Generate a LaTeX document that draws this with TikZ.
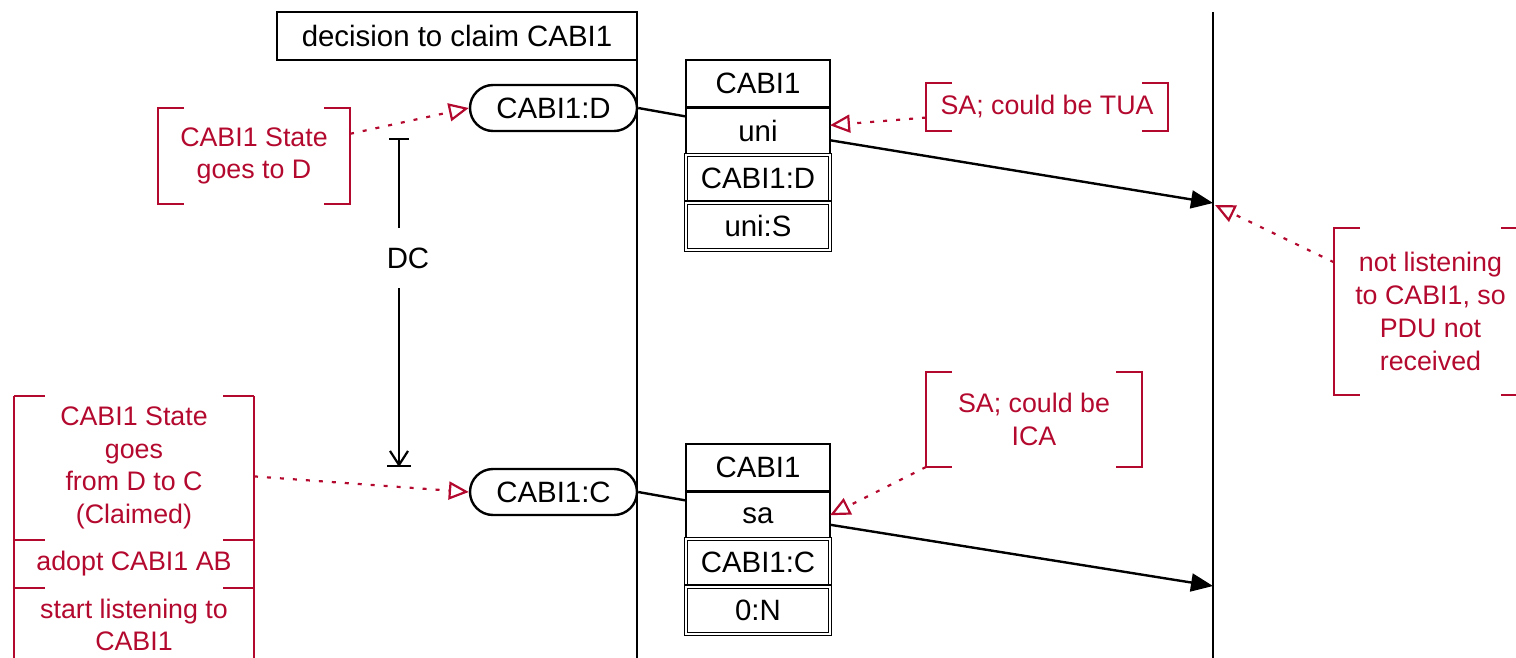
\documentclass[tikz,border=0pt]{standalone}
\usepackage{fontspec}
\setmainfont{Liberation Sans}
\usetikzlibrary{arrows.meta,positioning}
\definecolor{notered}{HTML}{B4092E}

\begin{document}
\begin{tikzpicture}[x=0.5pt, y=-0.5pt,
  every node/.style={font=\fontsize{14.7}{16.4}\selectfont, align=center, inner sep=0pt},
  lifeline/.style={line width=1.2pt},
  titlebox/.style={draw, line width=1.2pt, minimum width=180pt, minimum height=24pt},
  statepill/.style={draw, line width=1.2pt, rounded corners=11.5pt, minimum width=83.5pt, minimum height=23pt},
  pducell/.style={draw, line width=1.2pt, outer sep=0pt, minimum width=72pt, minimum height=23.75pt},
  parmcell/.style={draw, line width=0.6pt, double, double distance=1pt, outer sep=0pt, minimum width=72pt, minimum height=23.75pt},
  notebox/.style={text=notered, outer sep=0pt, font=\fontsize{13.4}{16.4}\selectfont},
  notebr/.style={draw=notered, line width=1.1pt},
  notelink/.style={draw=notered, line width=1.1pt, dash pattern=on 2pt off 4.5pt, -{Triangle[open, length=10pt, width=9pt]}},
  pdumsg/.style={line width=1.2pt, -{Triangle[length=11pt, width=9pt]}}]
  \useasboundingbox (0,0) rectangle (1516,658);
  \clip (0,0) rectangle (1516,658);

  % lifelines
  \coordinate (ll1top) at (637,12);
  \coordinate (ll1bot) at (637,670);
  \coordinate (ll2top) at (1213,12);
  \coordinate (ll2bot) at (1213,670);
  \draw[lifeline] (ll1top) -- (ll1bot);
  \draw[lifeline] (ll2top) -- (ll2bot);
  \node[titlebox] (title) at (457,36) {decision to claim CABI1};

  % states
  \node[statepill] (stD) at (553.5,108) {CABI1:D};
  \node[statepill] (stC) at (553.5,492) {CABI1:C};

  % first PDU
  \node[pducell] (hdr1) at (758,83.75) {CABI1};
  \node[pducell, below=0pt of hdr1] (uni) {uni};
  \node[parmcell, below=0pt of uni] (abD) {CABI1:D};
  \node[parmcell, below=0pt of abD] (uniS) {uni:S};

  % second PDU
  \node[pducell] (hdr2) at (758,467.75) {CABI1};
  \node[pducell, below=0pt of hdr2] (sa) {sa};
  \node[parmcell, below=0pt of sa] (abC) {CABI1:C};
  \node[parmcell, below=0pt of abC] (zeroN) {0:N};

  \coordinate (rx1) at (1213,203);
  \coordinate (rx2) at (1213,586);
  \draw[line width=1.2pt] (stD.east) -- ([yshift=-4.5pt]uni.north west);
  \draw[line width=1.2pt] (stC.east) -- ([yshift=-4.5pt]sa.north west);
  \draw[pdumsg] ([yshift=-4.5pt]uni.east) -- (rx1);
  \draw[pdumsg] ([yshift=-4.75pt]sa.east) -- (rx2);

  % DC interval
  \coordinate (dctop) at (399,138);
  \coordinate (dcbot) at (399,467);
  \node[minimum height=30pt] (dc) at (408,258) {DC};
  \draw[line width=1.1pt, {Bar[width=10pt]}-] (dctop) -- (dctop |- dc.north);
  \draw[line width=1.1pt, -{Straight Barb[length=7pt, width=9pt]}] (dctop |- dc.south) -- (dcbot);
  \draw[line width=1.1pt, -{Bar[width=12pt]}] (dctop |- dc.south) -- (dcbot);

  % notes
  \node[notebox, minimum width=96pt, minimum height=48pt] (nD) at (254,156) {CABI1 State\\goes to D};
  \draw[notebr] ([xshift=13pt]nD.north west) -| (nD.south west) -- ++(13pt,0);
  \draw[notebr] ([xshift=-13pt]nD.north east) -| (nD.south east) -- ++(-13pt,0);
  \draw[notelink] (nD.13) -- (stD.west);

  \node[notebox, minimum width=121pt, minimum height=24pt] (nTUA) at (1047,107) {SA; could be TUA};
  \draw[notebr] ([xshift=13pt]nTUA.north west) -| (nTUA.south west) -- ++(13pt,0);
  \draw[notebr] ([xshift=-13pt]nTUA.north east) -| (nTUA.south east) -- ++(-13pt,0);
  \draw[notelink] (nTUA.185) -- ([yshift=3pt]uni.east);

  \coordinate (rx1note) at (1215,205);
  \node[notebox, minimum width=96.5pt, minimum height=83.5pt] (nRx) at (1430.5,311.5) {not listening\\to CABI1, so\\PDU not\\received};
  \draw[notebr] ([xshift=13pt]nRx.north west) -| (nRx.south west) -- ++(13pt,0);
  \draw[notebr] ([xshift=-13pt]nRx.north east) -| (nRx.south east) -- ++(-13pt,0);
  \draw[notelink] (nRx.153) -- (rx1note);

  \node[notebox, minimum width=108pt, minimum height=47.5pt] (nICA) at (1034,419.5) {SA; could be\\ICA};
  \draw[notebr] ([xshift=13pt]nICA.north west) -| (nICA.south west) -- ++(13pt,0);
  \draw[notebr] ([xshift=-13pt]nICA.north east) -| (nICA.south east) -- ++(-13pt,0);
  \draw[notelink] (nICA.south west) -- (sa.east);

  \node[notebox, minimum width=120pt, minimum height=72pt] (nCl) at (134,468) {CABI1 State\\goes\\from D to C\\(Claimed)};
  \node[notebox, minimum width=120pt, minimum height=24pt, below=0pt of nCl] (nAB) {adopt CABI1 AB};
  \node[notebox, minimum width=120pt, minimum height=37pt, below=0pt of nAB] (nLs) {start listening to\\CABI1};
  \draw[notebr] (nCl.north west) -- (nLs.south west);
  \draw[notebr] (nCl.north east) -- (nLs.south east);
  \foreach \n/\s in {nCl/north, nCl/south, nAB/south, nLs/south} {
    \draw[notebr] (\n.\s -| \n.west) -- ++(15.5pt,0);
    \draw[notebr] (\n.\s -| \n.east) -- ++(-15.5pt,0);
  }
  \draw[notelink] (nCl.-4) -- (stC.west);
\end{tikzpicture}
\end{document}
